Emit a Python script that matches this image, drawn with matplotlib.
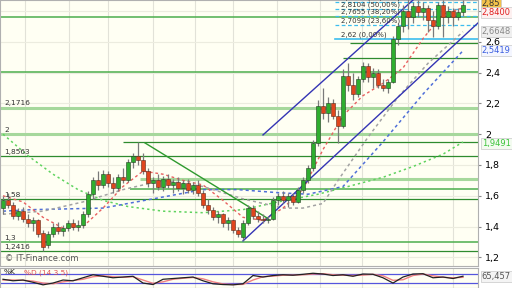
import matplotlib
import matplotlib.pyplot as plt
from matplotlib.transforms import blended_transform_factory

matplotlib.use("Agg")

# daily candles, left to right
opens = [1.52, 1.57, 1.54, 1.47, 1.50, 1.45, 1.42, 1.44, 1.36, 1.28,
         1.35, 1.40, 1.37, 1.39, 1.42, 1.40, 1.41, 1.48, 1.61, 1.70,
         1.67, 1.74, 1.68, 1.65, 1.72, 1.70, 1.82, 1.86, 1.83, 1.76,
         1.68, 1.70, 1.66, 1.71, 1.67, 1.69, 1.65, 1.68, 1.64, 1.67,
         1.62, 1.54, 1.51, 1.46, 1.48, 1.42, 1.44, 1.38, 1.33, 1.42,
         1.52, 1.47, 1.45, 1.44, 1.45, 1.57, 1.60, 1.57, 1.60, 1.56,
         1.64, 1.70, 1.78, 1.94, 2.18, 2.14, 2.20, 2.12, 2.05, 2.38,
         2.32, 2.26, 2.36, 2.44, 2.37, 2.40, 2.32, 2.30, 2.34, 2.62,
         2.70, 2.80, 2.76, 2.83, 2.79, 2.82, 2.74, 2.70, 2.84, 2.76,
         2.80, 2.76, 2.79]
highs = [1.60, 1.62, 1.56, 1.52, 1.53, 1.48, 1.46, 1.45, 1.38, 1.37,
         1.42, 1.43, 1.41, 1.44, 1.45, 1.44, 1.50, 1.63, 1.72, 1.76,
         1.77, 1.76, 1.72, 1.74, 1.78, 1.84, 1.88, 1.95, 1.88, 1.78,
         1.72, 1.74, 1.73, 1.74, 1.71, 1.72, 1.70, 1.71, 1.69, 1.70,
         1.64, 1.58, 1.53, 1.50, 1.49, 1.46, 1.45, 1.40, 1.44, 1.54,
         1.54, 1.50, 1.48, 1.47, 1.59, 1.62, 1.63, 1.62, 1.62, 1.66,
         1.72, 1.80, 1.96, 2.22, 2.30, 2.24, 2.23, 2.16, 2.42, 2.46,
         2.40, 2.38, 2.47, 2.46, 2.43, 2.42, 2.36, 2.36, 2.64, 2.72,
         2.84, 2.88, 2.86, 2.87, 2.86, 2.84, 2.80, 2.86, 2.87, 2.83,
         2.82, 2.82, 2.87]
lows = [1.48, 1.52, 1.45, 1.44, 1.43, 1.40, 1.37, 1.33, 1.24, 1.26,
        1.33, 1.35, 1.34, 1.37, 1.38, 1.37, 1.39, 1.46, 1.58, 1.64,
        1.65, 1.66, 1.62, 1.63, 1.68, 1.69, 1.78, 1.80, 1.74, 1.66,
        1.62, 1.64, 1.63, 1.65, 1.62, 1.63, 1.61, 1.62, 1.61, 1.60,
        1.52, 1.48, 1.44, 1.42, 1.40, 1.38, 1.36, 1.33, 1.31, 1.41,
        1.45, 1.43, 1.42, 1.42, 1.44, 1.54, 1.55, 1.53, 1.54, 1.55,
        1.62, 1.68, 1.76, 1.92, 2.10, 2.08, 2.10, 1.94, 2.04, 2.28,
        2.22, 2.24, 2.34, 2.34, 2.30, 2.30, 2.28, 2.27, 2.33, 2.58,
        2.66, 2.68, 2.72, 2.76, 2.74, 2.66, 2.63, 2.68, 2.63, 2.72,
        2.70, 2.74, 2.77]
closes = [1.57, 1.54, 1.47, 1.50, 1.45, 1.42, 1.44, 1.35, 1.27, 1.35,
          1.40, 1.37, 1.39, 1.42, 1.40, 1.41, 1.48, 1.61, 1.70, 1.67,
          1.74, 1.68, 1.65, 1.72, 1.70, 1.82, 1.86, 1.83, 1.76, 1.68,
          1.70, 1.66, 1.71, 1.67, 1.69, 1.65, 1.68, 1.64, 1.67, 1.62,
          1.54, 1.51, 1.46, 1.48, 1.42, 1.44, 1.38, 1.35, 1.42, 1.52,
          1.47, 1.45, 1.44, 1.45, 1.57, 1.60, 1.57, 1.60, 1.56, 1.64,
          1.70, 1.78, 1.94, 2.18, 2.14, 2.20, 2.12, 2.05, 2.38, 2.32,
          2.26, 2.36, 2.44, 2.37, 2.40, 2.32, 2.30, 2.34, 2.62, 2.70,
          2.80, 2.76, 2.83, 2.79, 2.82, 2.74, 2.70, 2.84, 2.76, 2.80,
          2.76, 2.79, 2.84]

# moving averages (session index, value)
ma_red_idx = [0, 4, 8, 12, 16, 20, 24, 28, 32, 36, 40, 44, 48, 52, 56, 60, 64, 68, 72, 76, 80, 84, 88, 92]
ma_red = [1.60, 1.56, 1.46, 1.39, 1.40, 1.52, 1.66, 1.76, 1.74, 1.70, 1.67, 1.57,
          1.46, 1.44, 1.52, 1.64, 1.90, 2.12, 2.25, 2.33, 2.43, 2.62, 2.78, 2.82]
ma_gray_idx = [0, 8, 16, 24, 32, 40, 48, 56, 60, 64, 67, 73, 79, 85, 92]
ma_gray = [1.48, 1.50, 1.56, 1.64, 1.70, 1.66, 1.58, 1.52, 1.52, 1.55, 1.70, 1.98, 2.24, 2.46, 2.6648]
ma_blue_idx = [0, 6, 20, 30, 40, 47, 55, 61, 68, 76, 84, 92]
ma_blue = [1.50, 1.51, 1.52, 1.58, 1.64, 1.64, 1.62, 1.61, 1.66, 1.95, 2.26, 2.5419]
ma_green_idx = [0, 5, 10, 15, 20, 25, 32, 40, 48, 55, 63, 69, 76, 82, 88, 92]
ma_green = [2.00, 1.86, 1.74, 1.64, 1.57, 1.53, 1.50, 1.49, 1.51, 1.56, 1.61, 1.66,
            1.72, 1.79, 1.87, 1.9491]

# horizontal levels: price, first session, kind
level_prices = [2.761, 2.592, 2.495, 2.404, 2.1716, 2.0, 1.9491, 1.8563, 1.709, 1.644, 1.58, 1.30, 1.2416]
level_start = [-1, 69.4, 68, -1, -1, -1, 24, -1, 27.4, 25.4, -1, -1, -1]
level_kind = ["mid", "dark", "dark", "mid", "light", "light", "dark", "dark", "light", "mid", "dark", "mid", "dark"]
left_labels = {2.1716: "2,1716", 2.0: "2", 1.8563: "1,8563", 1.58: "1,58", 1.30: "1,3", 1.2416: "1,2416"}

# fibonacci retracement
fib_prices = [2.8594, 2.8104, 2.7655, 2.7099, 2.62]
fib_pct = ["61,80%", "50,00%", "38,20%", "23,60%", "0,00%"]
fib_start = 66.4

# trend lines ((x0, x1), (y0, y1))
channel_low = ((48, 95), (1.307, 2.722))
channel_high = ((52, 95), (1.995, 3.25))
down_line = ((28.4, 52.8), (1.943, 1.456))

# stochastic %K / %D
stoch_idx = list(range(0, 93, 2))
stoch_k = [45, 35, 40, 25, 8, 20, 40, 35, 55, 75, 65, 55, 60, 65, 20, 10, 45, 50, 55, 60,
           35, 15, 10, 8, 15, 70, 60, 70, 75, 72, 78, 85, 80, 70, 75, 65, 80, 78, 55, 20,
           60, 80, 82, 55, 60, 50, 65.457]
stoch_d = [40, 40, 38, 33, 20, 15, 28, 37, 45, 62, 68, 62, 58, 62, 40, 18, 28, 45, 52, 57,
           48, 28, 14, 10, 11, 40, 62, 66, 72, 73, 75, 80, 82, 75, 72, 70, 73, 78, 68, 38,
           42, 70, 80, 68, 58, 55, 58]

grid_idx = [4.4, 13.2, 21, 30, 38.4, 46, 54.8, 63.4, 71.8, 81, 90]
price_ticks = [1.2, 1.4, 1.6, 1.8, 2.0, 2.2, 2.4, 2.6, 2.8]


def comma(v):
    return f"{v:g}".replace(".", ",")


W, H = 512, 288
fig = plt.figure(figsize=(W / 100, H / 100), dpi=100, facecolor="white")
ax = fig.add_axes([0, 22 / H, 478 / W, 266 / H], facecolor="#fffff3")
ind = fig.add_axes([0, 0, 478 / W, 20 / H], facecolor="#fffff3")

ax.set_xlim(-0.6, 95)
ax.set_ylim(1.144, 2.871)

# grid
for g in grid_idx:
    ax.axvline(g, color="#e2e2d8", lw=0.8, zorder=0)
    ind.axvline(g, color="#e2e2d8", lw=0.8, zorder=0)
for p in price_ticks:
    ax.axhline(p, color="#ececdf", lw=0.8, zorder=0)

# levels
styles = {"light": ("#a6d89c", 2.2), "mid": ("#4cae4c", 1.1), "dark": ("#2e8b2e", 0.9)}
for p, s, k in zip(level_prices, level_start, level_kind):
    c, lw = styles[k]
    ax.plot([s, 95], [p, p], color=c, lw=lw, zorder=1, solid_capstyle="butt")
for p, t in left_labels.items():
    ax.text(0.2, p + 0.008, t, fontsize=5.3, color="#333333", va="bottom", ha="left", zorder=6)

# fibonacci
for p, pct in zip(fib_prices, fib_pct):
    if pct == "0,00%":
        ax.plot([fib_start, 95], [p, p], color="#3cbdee", lw=1.2, zorder=2)
    else:
        ax.plot([fib_start, 95], [p, p], color="#3cbdee", lw=0.9, ls=(0, (3, 2)), zorder=2)
    ax.text(fib_start + 1.2, p + 0.006, f"{comma(p)} ({pct})", fontsize=5.0, color="#333333",
            va="bottom", ha="left", zorder=6)

# moving averages
ax.plot(ma_green_idx, ma_green, color="#5fd35f", lw=1.1, ls=(0, (1.5, 2)), zorder=2)
ax.plot(ma_blue_idx, ma_blue, color="#4f6fd8", lw=1.1, ls=(0, (2, 2)), zorder=2)
ax.plot(ma_gray_idx, ma_gray, color="#a3a3a3", lw=1.1, ls=(0, (2, 2)), zorder=2)
ax.plot(ma_red_idx, ma_red, color="#e86060", lw=1.0, ls=(0, (2, 2)), zorder=2)

# trend lines
ax.plot(*channel_low, color="#3434b4", lw=1.0, zorder=3)
ax.plot(*channel_high, color="#3434b4", lw=1.0, zorder=3)
ax.plot(*down_line, color="#2e9a2e", lw=1.0, zorder=3)

# candles
for i, (o, h, l, c) in enumerate(zip(opens, highs, lows, closes)):
    ax.vlines(i, l, h, color="#7a7a7a", lw=0.9, zorder=4)
    up = c >= o
    ax.bar(i, abs(c - o) if c != o else 0.004, bottom=min(o, c), width=0.62,
           color="#2fae2f" if up else "#e0451e", edgecolor="#233d23" if up else "#5a2a1a",
           linewidth=0.4, zorder=5)

ax.text(0.4, 1.165, "© IT-Finance.com", fontsize=6, color="#555555", ha="left", va="bottom")

# right price axis
ax.yaxis.tick_right()
ax.set_yticks(price_ticks)
ax.set_yticklabels([comma(p) for p in price_ticks])
ax.tick_params(axis="y", labelsize=6.8, length=2, pad=3, color="#888888")
ax.tick_params(axis="x", length=0, labelbottom=False)
ax.set_xticks([])
for sp in ax.spines.values():
    sp.set_color("#b0b0b0")
    sp.set_linewidth(0.8)

tr = blended_transform_factory(ax.transAxes, ax.transData)
boxes = [(2.848, "2,85", "#333333", "#f2c14a"), (2.788, "2,8400", "#e02020", "#fdf0f0"),
         (2.6648, "2,6648", "#888888", "#efefef"), (2.5419, "2,5419", "#3a5ee0", "#f4f6ff"),
         (1.9391, "1,9491", "#3cc43c", "#f3fbf0")]
for p, t, tc, bc in boxes:
    ax.text(1.008, p, t, transform=tr, fontsize=6.0, color=tc, ha="left", va="center", zorder=10,
            clip_on=False, bbox=dict(boxstyle="square,pad=0.12", fc=bc, ec="#c8c8c8", lw=0.5))

# stochastic panel
ind.set_xlim(-0.6, 95)
ind.set_ylim(-13, 120)
ind.axhline(80, color="#5555dd", lw=0.9, zorder=1)
ind.axhline(20, color="#5555dd", lw=0.9, zorder=1)
ind.plot(stoch_idx, stoch_d, color="#f08080", lw=1.0, zorder=2)
ind.plot(stoch_idx, stoch_k, color="#222222", lw=0.9, zorder=3)
ind.text(0.2, 112, "%K", fontsize=5.3, color="#222222", va="top", ha="left")
ind.text(4.2, 112, "%D (14 3 5)", fontsize=5.3, color="#e05050", va="top", ha="left")
ind.set_xticks([])
ind.set_yticks([])
for sp in ind.spines.values():
    sp.set_color("#b0b0b0")
    sp.set_linewidth(0.8)
ind.text(1.008, 65.457, "65,457", transform=blended_transform_factory(ind.transAxes, ind.transData),
         fontsize=6.0, color="#555555", ha="left", va="center", clip_on=False,
         bbox=dict(boxstyle="square,pad=0.12", fc="#f4f4f4", ec="#c8c8c8", lw=0.5))

fig.savefig("out.png", dpi=100, facecolor="white")
plt.close(fig)
